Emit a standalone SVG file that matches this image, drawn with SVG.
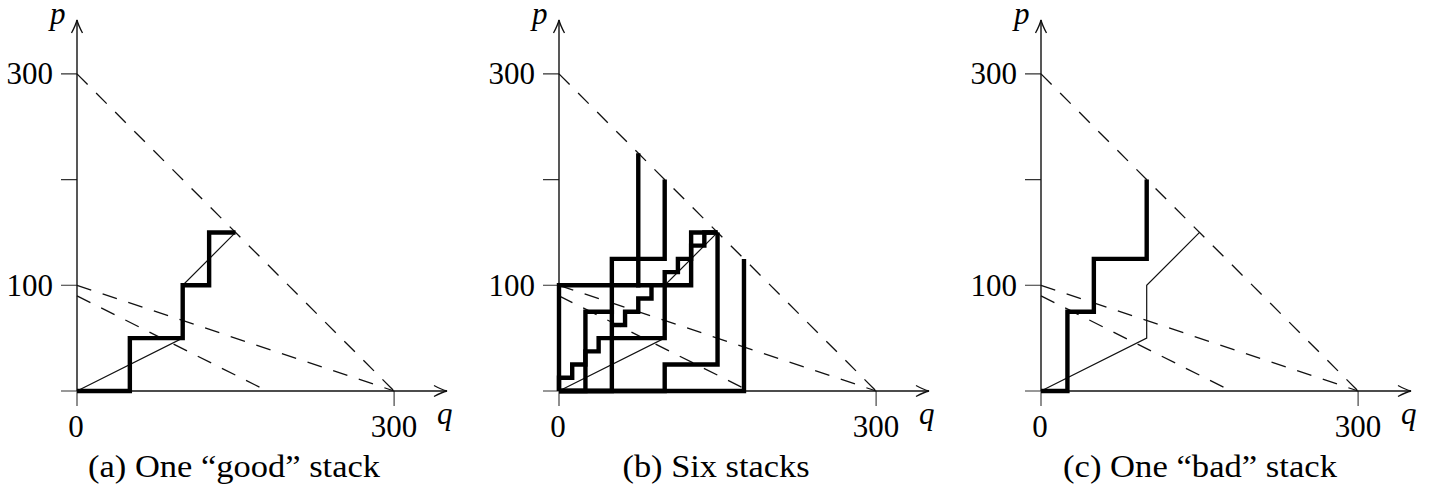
<svg xmlns="http://www.w3.org/2000/svg" width="1442" height="498" viewBox="0 0 1442 498">
<style>
.ax{fill:none;stroke:#111;stroke-width:1.4}
.tk{fill:none;stroke:#333;stroke-width:1.1}
.ds{fill:none;stroke:#111;stroke-width:1.3;stroke-dasharray:15 12}
.th{fill:none;stroke:#111;stroke-width:1.2;stroke-linejoin:miter}
.tk4{fill:none;stroke:#000;stroke-width:4.4;stroke-linejoin:miter;stroke-linecap:butt}
text{fill:#000;font-family:"Liberation Serif","Tinos","Times New Roman","Noto Serif","DejaVu Serif","Nimbus Roman","FreeSerif",Times,serif;font-size:31px}
.it{font-style:italic}
</style>
<defs>
<marker id="arr" viewBox="-15 -8 17 16" refX="0" refY="0" markerWidth="17" markerHeight="16" orient="auto" markerUnits="userSpaceOnUse">
<path d="M-13,-5.5 Q-5,-1.2 0,0 Q-5,1.2 -13,5.5" fill="none" stroke="#111" stroke-width="1.3"/>
</marker>
<g id="frame">
<path class="tk" d="M-16,391H0M-16,285.3H0M-16,179.6H0M-16,73.9H0M0,391V406M317.1,391V406"/>
<path class="ax" d="M0,391V20" marker-end="url(#arr)"/>
<path class="ax" d="M0,391H370" marker-end="url(#arr)"/>
<path class="ds" d="M0,73.9L317.1,391"/>
<path class="ds" d="M0,285.3L317.1,391"/>
<path class="ds" d="M0,295.87L190.26,391"/>
<text class="it" x="-27" y="24">p</text>
<text x="-24" y="84" text-anchor="end">300</text>
<text x="-24" y="296" text-anchor="end">100</text>
<text x="-1" y="437" text-anchor="middle">0</text>
<text x="317" y="437" text-anchor="middle">300</text>
<text class="it" x="360" y="424">q</text>
</g>
<path id="thinpath" class="th" d="M0,391L105.7,338.15L105.7,285.3L158.55,232.45"/>
<path id="good" class="tk4" d="M0,391L52.85,391L52.85,338.15L105.7,338.15L105.7,285.3L132.13,285.3L132.13,232.45L158.55,232.45"/>
<path id="bad" class="tk4" d="M0,391L26.43,391L26.43,311.72L52.85,311.72L52.85,258.88L105.7,258.88L105.7,179.6"/>
</defs>

<g id="panel-a" transform="translate(77,0)">
<use href="#frame"/>
<use href="#thinpath"/>
<use href="#good"/>
<text x="157" y="477" text-anchor="middle" textLength="292" lengthAdjust="spacingAndGlyphs">(a) One “good” stack</text>
</g>

<g id="panel-b" transform="translate(559,0)">
<use href="#frame"/>
<use href="#thinpath"/>
<path class="tk4" d="M0,391L0,377.79L13.21,377.79L13.21,364.57L26.43,364.57L26.43,351.36L39.64,351.36L39.64,338.15L52.85,338.15L52.85,324.94L66.06,324.94L66.06,311.72L79.28,311.72L79.28,298.51L92.49,298.51L92.49,285.3L105.7,285.3L105.7,272.09L118.91,272.09L118.91,258.88L132.13,258.88L132.13,245.66L145.34,245.66L145.34,232.45L158.55,232.45M52.85,326.5V310M77,285.3H94"/>
<use href="#good"/>
<use href="#bad"/>
<path class="tk4" d="M0,391L0,285.3L79.28,285.3L79.28,153.18"/>
<path class="tk4" d="M0,391L184.98,391L184.98,258.88"/>
<path class="tk4" d="M0,391L105.7,391L105.7,364.57L158.55,364.57L158.55,232.45"/>
<text x="157" y="477" text-anchor="middle" textLength="187" lengthAdjust="spacingAndGlyphs">(b) Six stacks</text>
</g>

<g id="panel-c" transform="translate(1041,0)">
<use href="#frame"/>
<use href="#thinpath"/>
<use href="#bad"/>
<text x="159" y="477" text-anchor="middle" textLength="274" lengthAdjust="spacingAndGlyphs">(c) One “bad” stack</text>
</g>
</svg>
